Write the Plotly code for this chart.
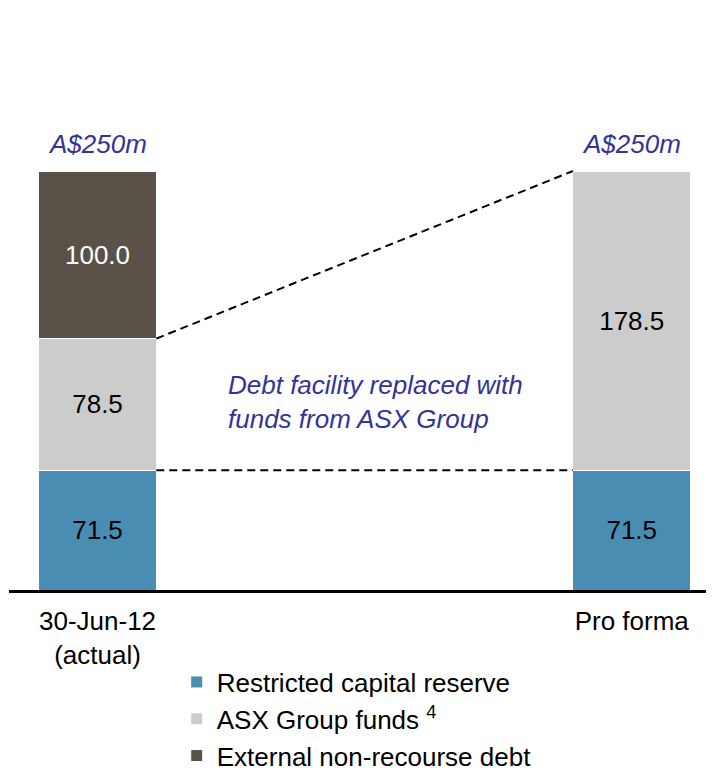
"""Capital reserve funding — stacked bars, 30-Jun-12 vs pro forma."""

import plotly.graph_objects as go

# ── data ──────────────────────────────────────────────────────────────────────
categories    = ['30-Jun-12<br>(actual)', 'Pro forma']
restricted    = [71.5, 71.5]
asx_funds     = [78.5, 178.5]
external_debt = [100.0, None]
totals        = [250, 250]
total_labels  = ['A$250m', 'A$250m']

_FONT  = 'Liberation Sans, Arial, sans-serif'
_BLUE  = '#4A8DB3'
_GREY  = '#CCCCCC'
_DARK  = '#5A5249'
_NOTE  = '#333399'
_BARW  = 0.22

xpos = list(range(len(categories)))


def _fmt(vals):
    return [f'{v:.1f}' if v else None for v in vals]


fig = go.Figure()

for name, vals, color, txtcol in [
    ('Restricted capital reserve', restricted, _BLUE, 'black'),
    ('ASX Group funds <sup>4</sup>', asx_funds, _GREY, 'black'),
    ('External non-recourse debt', external_debt, _DARK, 'white'),
]:
    fig.add_trace(go.Bar(
        x=xpos, y=vals, name=name,
        width=_BARW,
        marker=dict(color=color, line=dict(color='white', width=1)),
        text=_fmt(vals), textposition='inside', insidetextanchor='middle',
        textangle=0, constraintext='none',
        textfont=dict(color=txtcol, size=26, family=_FONT),
        hoverinfo='skip',
    ))

# dashed connectors between the bars
left_edge, right_edge = xpos[0] + _BARW / 2, xpos[1] - _BARW / 2
fig.add_trace(go.Scatter(
    x=[left_edge, right_edge],
    y=[restricted[0] + asx_funds[0], totals[1]],
    mode='lines', line=dict(color='black', width=2, dash='8px,5px'),
    showlegend=False, hoverinfo='skip',
))
fig.add_trace(go.Scatter(
    x=[left_edge, right_edge],
    y=[restricted[0], restricted[1]],
    mode='lines', line=dict(color='black', width=2, dash='8px,5px'),
    showlegend=False, hoverinfo='skip',
))

# totals above bars
for xi, tot, lab in zip(xpos, totals, total_labels):
    fig.add_annotation(
        x=xi, y=tot, text=lab, showarrow=False,
        xanchor='center', yanchor='bottom', yshift=10,
        font=dict(color=_NOTE, size=26, family=_FONT, style='italic'),
    )

fig.add_annotation(
    xref='paper', yref='paper', x=0.308, y=0.39,
    xanchor='left', yanchor='middle', align='left', showarrow=False,
    text='Debt facility replaced with<br>funds from ASX Group',
    font=dict(color=_NOTE, size=26, family=_FONT, style='italic'),
)

# page body has an 8px margin, so the figure is drawn 8px smaller
fig.update_layout(
    template='none',
    width=706, height=760,
    barmode='stack',
    paper_bgcolor='white', plot_bgcolor='white',
    font=dict(family=_FONT, size=26, color='black'),
    margin=dict(l=1, r=0, t=100, b=178, autoexpand=False),
    showlegend=True,
    legend=dict(
        xref='container', yref='container',
        x=0.239, y=0.144, xanchor='left', yanchor='top',
        traceorder='normal', orientation='v',
        font=dict(size=26, family=_FONT, color='black'),
        bgcolor='rgba(0,0,0,0)',
    ),
    xaxis=dict(
        range=[-0.1657, 1.154], tickvals=xpos, ticktext=categories,
        showgrid=False, zeroline=False, ticks='', automargin=False,
        ticklabelstandoff=6,
        showline=True, linecolor='black', linewidth=2.5,
        tickfont=dict(size=26, family=_FONT),
    ),
    yaxis=dict(
        range=[0, 287.6], visible=False, showgrid=False, zeroline=False,
        automargin=False,
    ),
)

fig.write_html('out.html')
